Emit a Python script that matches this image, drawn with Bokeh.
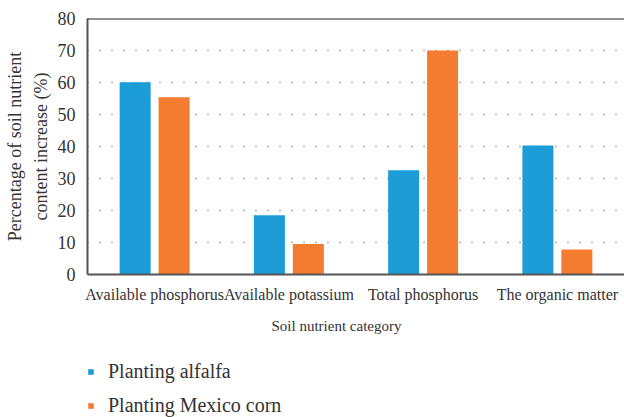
from bokeh.plotting import figure
from bokeh.models import FactorRange, Legend, LegendItem, ColumnDataSource, Span, Label, Range1d
from bokeh.layouts import column
from bokeh.transform import dodge
from bokeh.embed import file_html
from bokeh.resources import INLINE

categories = ["Available phosphorus", "Available potassium", "Total phosphorus", "The organic matter"]
alfalfa = [60.1, 18.5, 32.6, 40.3]
corn = [55.4, 9.5, 70.0, 7.8]
series_names = ["Planting alfalfa", "Planting Mexico corn"]
y_ticks = [0, 10, 20, 30, 40, 50, 60, 70, 80]
x_title = "Soil nutrient category"
y_title = "Percentage of soil nutrient\ncontent increase (%)"

BLUE = "#1D9DD8"
ORANGE = "#F47C30"
TXT = "#333333"
FONT = "Liberation Serif"

src = ColumnDataSource(dict(cat=categories, a=alfalfa, c=corn))

p = figure(x_range=FactorRange(*categories), y_range=(0, 80), width=624, height=310,
           output_backend="svg", toolbar_location=None,
           min_border_left=87, min_border_top=18, min_border_right=0, min_border_bottom=36)
p.x_range.range_padding = 0

r1 = p.vbar(x=dodge("cat", -0.145, range=p.x_range), top="a", width=0.231, source=src,
            fill_color=BLUE, line_color=None)
r2 = p.vbar(x=dodge("cat", 0.145, range=p.x_range), top="c", width=0.231, source=src,
            fill_color=ORANGE, line_color=None)

p.outline_line_color = None
p.add_layout(Span(location=80, dimension="width", line_color="#222222", line_width=2))

p.xgrid.visible = False
p.ygrid.ticker = y_ticks[1:-1]
p.ygrid.grid_line_color = "#666666"
p.ygrid.grid_line_dash = "1 11"
p.ygrid.grid_line_width = 1.3

p.yaxis.ticker = y_ticks
for ax in (p.xaxis, p.yaxis):
    ax.major_tick_line_color = None
    ax.minor_tick_line_color = None
    ax.axis_line_color = "#555555"
    ax.axis_line_width = 2
    ax.major_label_text_font = FONT
    ax.major_label_text_color = TXT
    ax.axis_label_text_font = FONT
    ax.axis_label_text_color = TXT
    ax.axis_label_text_font_style = "normal"

p.yaxis.major_label_text_font_size = "18px"
p.yaxis.major_label_standoff = 6
p.yaxis.axis_label = y_title
p.yaxis.axis_label_text_font_size = "18px"
p.yaxis.axis_label_text_line_height = 1.3
p.yaxis.axis_label_standoff = 4

p.xaxis.major_label_text_font_size = "16px"
p.xaxis.major_label_standoff = 5

# lower panel: x-axis title and legend (frame aligned with the chart above)
p2 = figure(width=624, height=107, output_backend="svg", toolbar_location=None,
            x_axis_type=None, y_axis_type=None, min_border=0,
            x_range=Range1d(87, 624), y_range=Range1d(417, 310))
p2.outline_line_color = None
p2.xgrid.visible = False
p2.ygrid.visible = False
g1 = p2.vbar(x=[-1000], top=[-1000], width=1, fill_color=BLUE, line_color=None)
g2 = p2.vbar(x=[-1000], top=[-1000], width=1, fill_color=ORANGE, line_color=None)

p2.add_layout(Label(x=336, y=325, text=x_title, text_align="center", text_baseline="middle",
                    text_font=FONT, text_font_size="15px", text_color=TXT))

legend = Legend(items=[LegendItem(label=series_names[0], renderers=[g1]),
                       LegendItem(label=series_names[1], renderers=[g2])],
                orientation="vertical", location=(0, 0),
                label_text_font=FONT, label_text_font_size="20px", label_text_color=TXT,
                glyph_width=7, glyph_height=7, label_height=14, spacing=11,
                label_standoff=14, border_line_color=None, background_fill_alpha=0,
                margin=0, padding=0)
p2.add_layout(legend, "center")

layout = column(p, p2, spacing=0)
open("out.html", "w").write(file_html(layout, INLINE))
